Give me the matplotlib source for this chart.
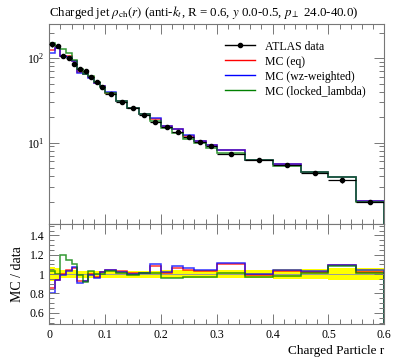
import numpy as np
import matplotlib
matplotlib.use("Agg")
import matplotlib.pyplot as plt
from matplotlib.lines import Line2D
from matplotlib.ticker import MultipleLocator, FixedLocator, FixedFormatter, LogLocator, NullFormatter


# ビンの境界 (r)
bin_edges = [0.00, 0.01, 0.02, 0.03, 0.04, 0.05, 0.06, 0.07, 0.08, 0.09, 0.10,
             0.12, 0.14, 0.16, 0.18, 0.20, 0.22, 0.24, 0.26, 0.28, 0.30,
             0.35, 0.40, 0.45, 0.50, 0.55, 0.60]

# ATLAS データ
data_vals = [145, 140, 106, 101, 86, 74, 70, 59, 52, 46,
             37.5, 30.5, 25.6, 21.2, 17.6, 15.3, 13.5, 11.5, 10.1, 9.0,
             7.4, 6.3, 5.4, 4.4, 3.6, 1.97]
data_rel_err = [0.07, 0.06, 0.04, 0.04, 0.04, 0.035, 0.035, 0.035, 0.035, 0.035,
                0.035, 0.035, 0.035, 0.035, 0.035, 0.04, 0.04, 0.04, 0.04, 0.04,
                0.045, 0.045, 0.05, 0.05, 0.065, 0.06]

# MC / data
ratio_eq = [0.86, 0.94, 1.00, 1.045, 1.06, 0.93, 0.93, 1.00, 0.97, 1.02,
            1.04, 1.03, 1.01, 1.015, 1.08, 1.015, 1.06, 1.045, 1.035, 1.035,
            1.10, 0.99, 1.03, 1.02, 1.09, 1.025]
ratio_wz = [0.80, 0.94, 0.99, 1.03, 1.07, 0.91, 0.93, 0.99, 0.965, 1.02,
            1.045, 1.02, 1.00, 1.015, 1.10, 1.02, 1.08, 1.06, 1.045, 1.045,
            1.11, 1.00, 1.045, 1.03, 1.095, 1.04]
ratio_locked = [1.03, 1.00, 1.20, 1.15, 1.10, 0.99, 0.92, 1.035, 1.00, 1.00,
                1.03, 1.01, 0.99, 1.015, 1.01, 0.96, 0.965, 0.97, 0.97, 0.97,
                1.01, 0.975, 0.98, 1.01, 1.08, 1.01]

data_label = 'ATLAS data'
mc_labels = ['MC (eq)', 'MC (wz-weighted)', 'MC (locked_lambda)']
mc_colors = ['#ff0000', '#0000ff', '#008000']

title = r'Charged jet $\rho_{\mathrm{ch}}(r)$ (anti-$k_t$, R = 0.6, $y$ 0.0-0.5, $p_\perp$ 24.0-40.0)'


def style_axis(ax):
    for s in ax.spines.values():
        s.set_color('#777777')
        s.set_linewidth(0.8)
    ax.tick_params(which='both', direction='in', top=True, right=True,
                   color='#777777', labelsize=8.5)
    ax.tick_params(which='major', length=7.5, width=0.7)
    ax.tick_params(which='minor', length=3.5, width=0.7)


def main():
    plt.rcParams['font.family'] = ['Liberation Serif', 'DejaVu Serif']
    plt.rcParams['mathtext.fontset'] = 'stix'

    edges = np.array(bin_edges)
    centers = 0.5 * (edges[1:] + edges[:-1])
    half_w = 0.5 * (edges[1:] - edges[:-1])
    data = np.array(data_vals)
    err = np.array(data_rel_err)
    ratios = [np.array(ratio_eq), np.array(ratio_wz), np.array(ratio_locked)]

    fig = plt.figure(figsize=(3.97, 3.58), dpi=100)
    ax = fig.add_axes([0.1242, 0.3735, 0.8438, 0.5595])
    rax = fig.add_axes([0.1242, 0.095, 0.8438, 0.2785], sharex=ax)

    # メインパネル
    for r, col in zip(ratios, mc_colors):
        ax.stairs(data * r, edges, color=col, lw=1.1, alpha=0.8)
    ax.errorbar(centers, data, xerr=half_w, yerr=data * err, fmt='o', color='black',
                ms=3.0, lw=0.9, capsize=0, zorder=5)

    ax.set_yscale('log')
    ax.set_ylim(1.08, 253)
    ax.set_xlim(0, 0.6)
    ax.yaxis.set_major_locator(LogLocator(base=10))
    ax.yaxis.set_minor_locator(LogLocator(base=10, subs=np.arange(2, 10)))
    ax.yaxis.set_minor_formatter(NullFormatter())
    ax.xaxis.set_major_locator(MultipleLocator(0.1))
    ax.xaxis.set_minor_locator(MultipleLocator(0.02))
    style_axis(ax)
    ax.tick_params(labelbottom=False)
    ax.set_title(title, fontsize=9.3, loc='left', pad=6)

    # 凡例
    handles = [Line2D([], [], color='black', marker='o', ms=3.0, lw=1.0)]
    handles += [Line2D([], [], color=c, lw=1.0) for c in mc_colors]
    ax.legend(handles, [data_label] + mc_labels, loc='upper right', frameon=False,
              fontsize=8.5, handlelength=2.6, labelspacing=0.25,
              bbox_to_anchor=(0.975, 0.97))

    # 比率パネル
    rax.stairs(1 + err, edges, baseline=1 - err, fill=True, color='#ffff00', lw=0)
    rax.stairs(np.ones_like(data), edges, color='#999999', lw=0.7)
    for r, col in zip(ratios, mc_colors):
        rax.stairs(r, edges, color=col, lw=1.1, alpha=0.8)
    rax.set_ylim(0.485, 1.515)
    rax.yaxis.set_major_locator(FixedLocator([0.6, 0.8, 1.0, 1.2, 1.4]))
    rax.yaxis.set_major_formatter(FixedFormatter(['0.6', '0.8', '1', '1.2', '1.4']))
    rax.yaxis.set_minor_locator(MultipleLocator(0.05))
    style_axis(rax)
    rax.set_xlim(0, 0.6)
    rax.set_xticks([0, 0.1, 0.2, 0.3, 0.4, 0.5, 0.6])
    rax.set_xticklabels(['0', '0.1', '0.2', '0.3', '0.4', '0.5', '0.6'])
    rax.set_ylabel('MC / data', fontsize=10)
    rax.set_xlabel('Charged Particle r', fontsize=9.5, loc='right', labelpad=3)

    fig.savefig('out.png', dpi=100)


if __name__ == "__main__":
    main()
